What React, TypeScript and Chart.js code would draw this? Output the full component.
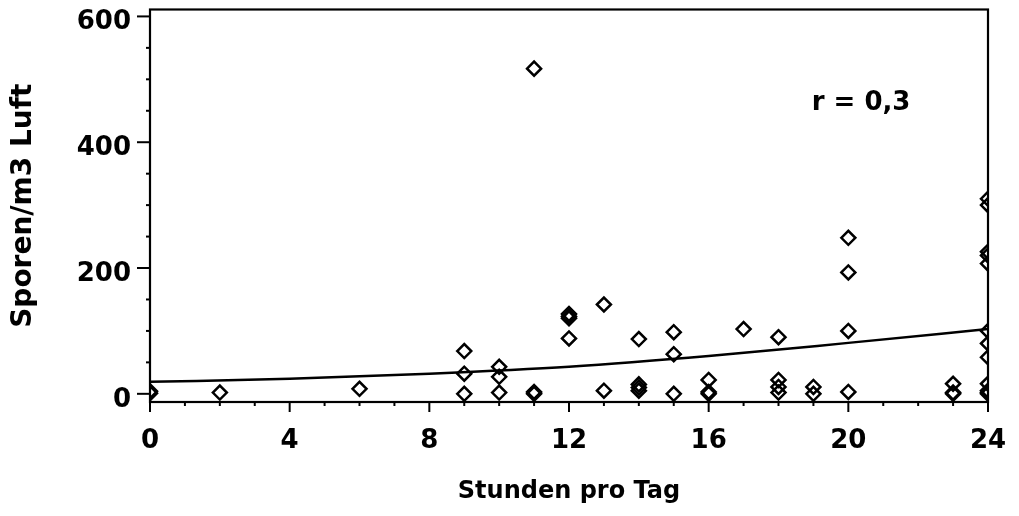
import React, { useEffect, useRef } from "react";
import { Chart, registerables } from "chart.js";

Chart.register(...registerables);

// Observations: hours per day (x) and spores per m3 air (y)
const hours = [
  0, 0, 2, 6,
  9, 9, 9,
  10, 10, 10,
  11, 11, 11,
  12, 12, 12, 12,
  13, 13,
  14, 14, 14, 14,
  15, 15, 15,
  16, 16, 16,
  17,
  18, 18, 18, 18,
  19, 19,
  20, 20, 20, 20,
  23, 23, 23,
  24, 24, 24, 24, 24, 24, 24, 24, 24, 24, 24, 24,
];
const spores = [
  4, 1, 2, 8,
  68, 32, 0,
  43, 27, 2,
  517, 3, 0,
  127, 123, 120, 88,
  142, 5,
  87, 15, 10, 5,
  98, 63, 0,
  22, 3, 0,
  103,
  90, 22, 11, 2,
  11, 0,
  248, 193, 100, 3,
  16, 2, 0,
  310, 300, 226, 220, 207, 100, 80, 58, 16, 5, 2, 0,
];

// Fitted trend curve
const trendX = [0, 4, 8, 12, 16, 20, 24];
const trendY = [19, 24, 32, 43, 60, 81, 103];

const xTicks = [0, 4, 8, 12, 16, 20, 24];
const yTicks = [0, 200, 400, 600];
const annotationText = "r = 0,3";

const FONT = "'DejaVu Sans', sans-serif";

export default function App() {
  const ref = useRef<HTMLCanvasElement | null>(null);

  useEffect(() => {
    if (!ref.current) return;

    const framePlugin = {
      id: "frameTicks",
      afterDraw(chart: any) {
        const { ctx, chartArea } = chart;
        const xs = chart.scales.x;
        const ys = chart.scales.y;
        ctx.save();
        ctx.strokeStyle = "#000";
        ctx.lineWidth = 2.2;
        ctx.strokeRect(
          chartArea.left,
          chartArea.top,
          chartArea.right - chartArea.left,
          chartArea.bottom - chartArea.top
        );
        ctx.lineWidth = 2;
        // y ticks
        for (let v = 0; v <= 600; v += 50) {
          const py = ys.getPixelForValue(v);
          const len = v % 200 === 0 ? 13 : 4;
          ctx.beginPath();
          ctx.moveTo(chartArea.left, py);
          ctx.lineTo(chartArea.left - len, py);
          ctx.stroke();
        }
        // x ticks
        for (let v = 0; v <= 24; v += 1) {
          const px = xs.getPixelForValue(v);
          const len = v % 4 === 0 ? 10 : 4;
          ctx.beginPath();
          ctx.moveTo(px, chartArea.bottom);
          ctx.lineTo(px, chartArea.bottom + len);
          ctx.stroke();
        }
        // annotation
        ctx.fillStyle = "#000";
        ctx.font = `bold 26px ${FONT}`;
        ctx.textAlign = "left";
        ctx.textBaseline = "middle";
        ctx.fillText(annotationText, xs.getPixelForValue(18.95), ys.getPixelForValue(462));
        ctx.restore();
      },
    };

    const chart = new Chart(ref.current, {
      type: "scatter",
      data: {
        datasets: [
          {
            type: "line",
            data: trendX.map((x, i) => ({ x, y: trendY[i] })),
            borderColor: "#000",
            borderWidth: 2.5,
            pointRadius: 0,
            cubicInterpolationMode: "monotone",
            fill: false,
            order: 2,
          } as any,
          {
            data: hours.map((x, i) => ({ x, y: spores[i] })),
            pointStyle: "rectRot",
            pointRadius: 7,
            pointBorderWidth: 2.5,
            pointBorderColor: "#000",
            pointBackgroundColor: "rgba(255,255,255,0)",
            order: 1,
          },
        ],
      },
      options: {
        animation: false,
        responsive: true,
        maintainAspectRatio: false,
        layout: { padding: { top: 7, right: 31, left: 0, bottom: 0 } },
        plugins: {
          legend: { display: false },
          tooltip: { enabled: false },
        },
        scales: {
          x: {
            type: "linear",
            min: 0,
            max: 24,
            afterBuildTicks: (s: any) => {
              s.ticks = xTicks.map((v) => ({ value: v }));
            },
            afterFit: (s: any) => {
              s.height = 114;
              s.paddingLeft = 0;
              s.paddingRight = 0;
            },
            grid: { display: false, drawTicks: false },
            border: { display: false },
            ticks: {
              color: "#000",
              padding: 24,
              font: { family: FONT, size: 26, weight: "bold" },
            },
            title: {
              display: true,
              text: "Stunden pro Tag",
              color: "#000",
              padding: { top: 0, bottom: 10 },
              font: { family: FONT, size: 24, weight: "bold" },
            },
          },
          y: {
            type: "linear",
            min: -13,
            max: 611,
            afterBuildTicks: (s: any) => {
              s.ticks = yTicks.map((v) => ({ value: v }));
            },
            afterFit: (s: any) => {
              s.width = 150;
              s.paddingTop = 0;
              s.paddingBottom = 0;
            },
            grid: { display: false, drawTicks: false },
            border: { display: false },
            ticks: {
              color: "#000",
              padding: 19,
              labelOffset: 6,
              font: { family: FONT, size: 26, weight: "bold" },
            },
            title: {
              display: true,
              text: "Sporen/m3 Luft",
              color: "#000",
              padding: { top: 7, bottom: 0 },
              font: { family: FONT, size: 28, weight: "bold" },
            },
          },
        },
      },
      plugins: [framePlugin],
    });

    return () => chart.destroy();
  }, []);

  return (
    <div
      style={{
        position: "fixed",
        left: 0,
        top: 0,
        width: 1019,
        height: 516,
        background: "#fff",
      }}
    >
      <canvas ref={ref} />
    </div>
  );
}
